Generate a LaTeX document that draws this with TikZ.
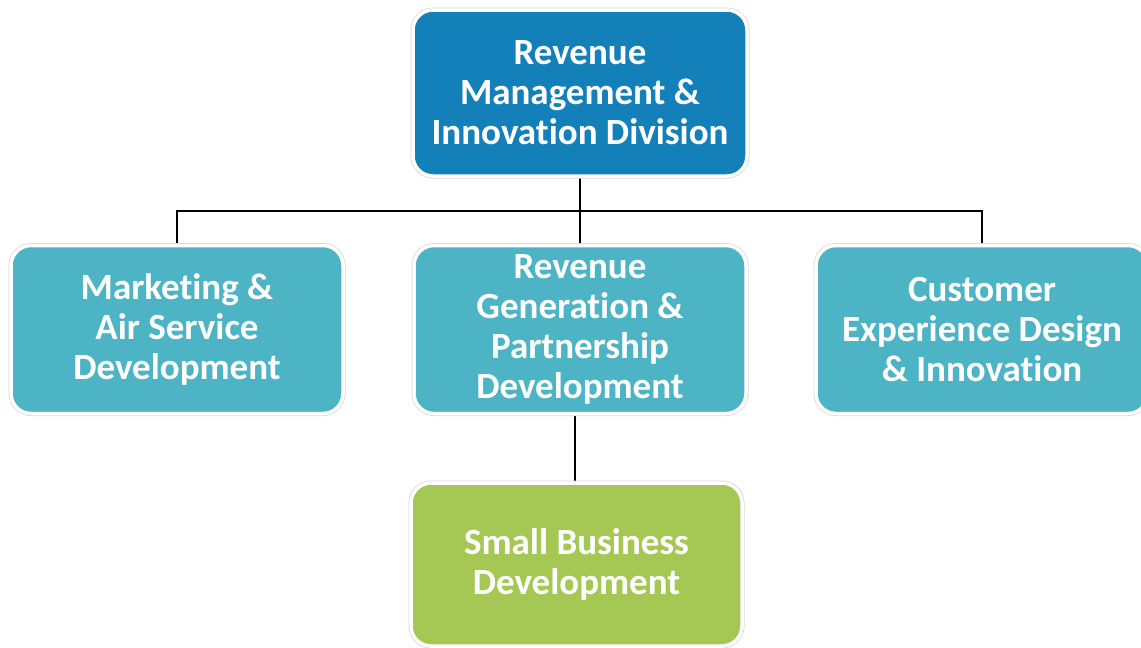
\documentclass[tikz,border=0pt]{standalone}
\usepackage{fontspec}
\setmainfont[Ligatures=NoCommon]{Carlito}
\usetikzlibrary{backgrounds}
\definecolor{topblue}{RGB}{19,128,185}
\definecolor{teal}{RGB}{76,180,196}
\definecolor{leaf}{RGB}{164,200,83}
\definecolor{edgegray}{RGB}{215,215,215}
\tikzset{
  orgbox/.style={rounded corners=20pt, draw=white, line width=3.5pt,
    preaction={draw=edgegray, line width=5pt},
    inner sep=0pt, align=center, text=white,
    font=\fontsize{37}{40}\selectfont\bfseries},
  link/.style={line width=2.4pt, draw=black}
}
\begin{document}
\begin{tikzpicture}[x=1pt,y=-1pt]
\useasboundingbox (0,0) rectangle (1141,648);
\clip (0,0) rectangle (1141,648);
\node[orgbox, fill=topblue, minimum width=334pt, minimum height=166pt] (top) at (580,93)
  {Revenue\\Management \&\\Innovation Division};
\node[orgbox, fill=teal, minimum width=332pt, minimum height=168pt] (left) at (177,329.5)
  {Marketing \&\\Air Service\\Development};
\node[orgbox, fill=teal, minimum width=332pt, minimum height=168pt] (mid) at (580,329.5)
  {Revenue\\Generation \&\\Partnership\\Development};
\node[orgbox, fill=teal, minimum width=332pt, minimum height=168pt] (right) at (982,329.5)
  {Customer\\Experience Design\\\& Innovation};
\node[orgbox, fill=leaf, minimum width=331pt, minimum height=163pt] (green) at (576.5,564.5)
  {Small Business\\Development};
\coordinate (bus) at (0,211);
\begin{scope}[on background layer]
\fill[white] (0,0) rectangle (1141,648);
\draw[link] (top.south) -- (mid.north);
\draw[link] (left.north) -- (left.north |- bus) -- (right.north |- bus) -- (right.north);
\draw[link] (green.north -| 575,0) -- (mid.south -| 575,0);
\end{scope}
\end{tikzpicture}
\end{document}
